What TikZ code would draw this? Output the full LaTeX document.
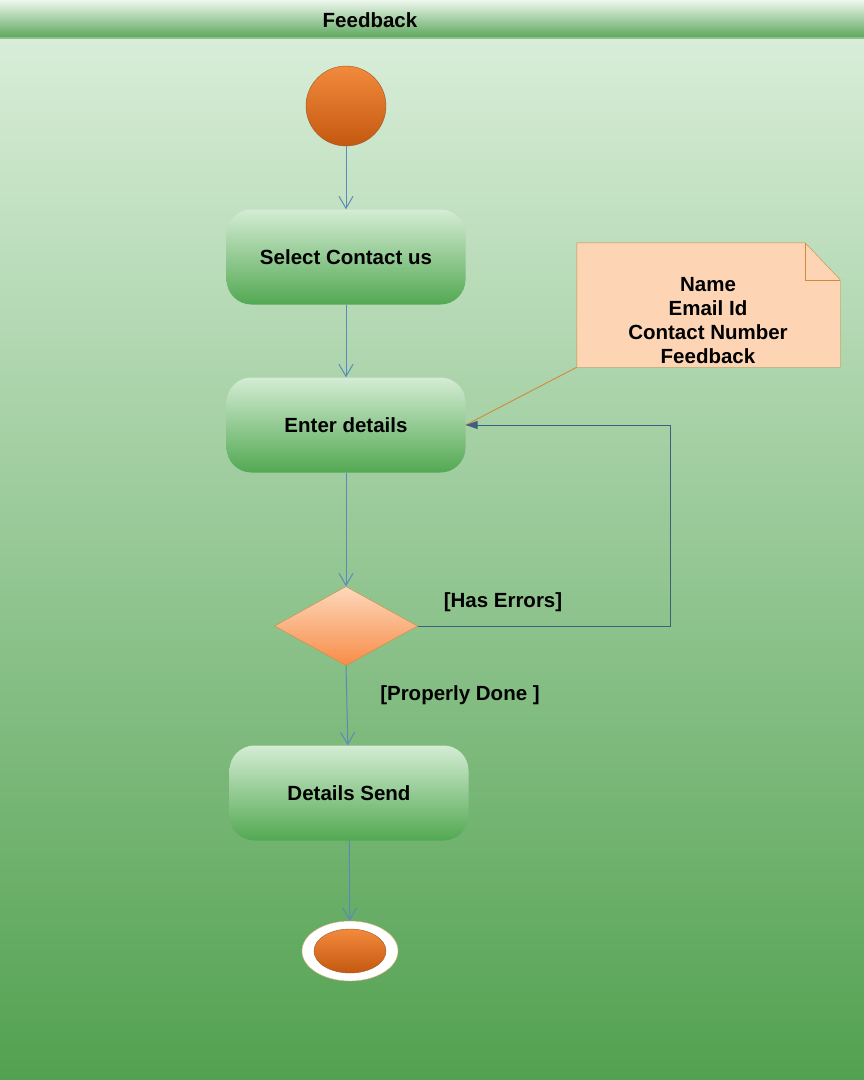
\documentclass[tikz,border=0pt]{standalone}
\usepackage{fontspec}
\setmainfont{Liberation Sans}
\usepackage{tikz}
\usetikzlibrary{arrows.meta,shapes.geometric,backgrounds}

\definecolor{bgtop}{HTML}{D8EDD8}
\definecolor{bgbot}{HTML}{52A150}
\definecolor{hdtop}{HTML}{EEF7EE}
\definecolor{hdbot}{HTML}{5AA65A}
\definecolor{boxtop}{HTML}{D4ECD4}
\definecolor{boxbot}{HTML}{52A852}
\definecolor{orgtop}{HTML}{F28A3C}
\definecolor{orgbot}{HTML}{C45810}
\definecolor{orgline}{HTML}{9C5A2A}
\definecolor{dectop}{HTML}{FDD8BC}
\definecolor{decbot}{HTML}{F88C48}
\definecolor{notefill}{HTML}{FDD5B5}
\definecolor{noteline}{HTML}{D08A3C}
\definecolor{flow}{HTML}{5B8AB8}
\definecolor{loopline}{HTML}{3D5F80}

\tikzset{
  lbl/.style={font=\bfseries\fontsize{20.5}{24}\selectfont},
  action/.style={rectangle, rounded corners=25pt, minimum width=239pt, minimum height=95pt,
    top color=boxtop, bottom color=boxbot, lbl},
  startnode/.style={circle, minimum size=80pt, inner sep=0pt, draw=orgline,
    top color=orgtop, bottom color=orgbot},
  decision/.style={diamond, minimum width=143pt, minimum height=79pt, inner sep=0pt,
    draw=noteline, top color=dectop, bottom color=decbot},
  flowarrow/.style={draw=flow, line width=1pt, -{Straight Barb[length=12pt,width=14pt]}},
}

\begin{document}
\begin{tikzpicture}[x=1pt,y=-1pt]
  \useasboundingbox (0,0) rectangle (864,1080);
  % title band
  \shade[top color=hdtop, bottom color=hdbot] (0,0) rectangle (864,38);
  \draw[color=hdbot!70!white, line width=2pt] (0,38) -- (864,38);
  \node[lbl] (title) at (370,20) {Feedback};

  % activity nodes
  \node[startnode] (start) at (346,106) {};
  \node[action] (select) at (346,257) {Select Contact us};
  \node[action] (enter) at (346,425) {Enter details};
  \node[decision] (check) at (346,626) {};
  \node[action] (send) at (349,793) {Details Send};
  \node[ellipse, minimum width=96pt, minimum height=60pt, fill=white, draw=noteline!70!white] (finish) at (350,951) {};
  \node[ellipse, minimum width=72pt, minimum height=44pt, inner sep=0pt, draw=orgline,
    top color=orgtop, bottom color=orgbot] (finishdot) at (350,951) {};

  % note
  \node[minimum width=263pt, minimum height=124pt, inner sep=0pt] (note) at (708.5,305) {};
  \node[lbl, align=center] (notetext) at (708,321) {Name\\Email Id\\Contact Number\\Feedback};
  \begin{scope}[on background layer]
    \shade[top color=bgtop, bottom color=bgbot] (0,39) rectangle (864,1080);
    \filldraw[fill=notefill, draw=noteline] (note.south west) -- (note.north west)
      -- ([xshift=-35pt]note.north east) -- ([yshift=-37pt]note.north east) -- (note.south east) -- cycle;
    \draw[noteline] ([xshift=-35pt]note.north east) |- ([yshift=-37pt]note.north east);
  \end{scope}
  \draw[color=noteline, line width=0.9pt] (note.south west) -- (enter.east);

  % flow
  \draw[flowarrow] (start) -- (select);
  \draw[flowarrow] (select) -- (enter);
  \draw[flowarrow] (enter) -- (check.north);
  \draw[flowarrow] (check.south) -- (send);
  \draw[flowarrow] (send) -- (finish);
  \coordinate (errturn) at (670,626);
  \draw[draw=loopline, line width=1pt, -{Triangle[length=12pt,width=8pt]}] (check.east) -- (errturn) |- (enter.east);
  \node[lbl] (errlbl) at (503,602) {[Has Errors]};
  \node[lbl] (donelbl) at (460,695) {[Properly Done ]};
\end{tikzpicture}
\end{document}
